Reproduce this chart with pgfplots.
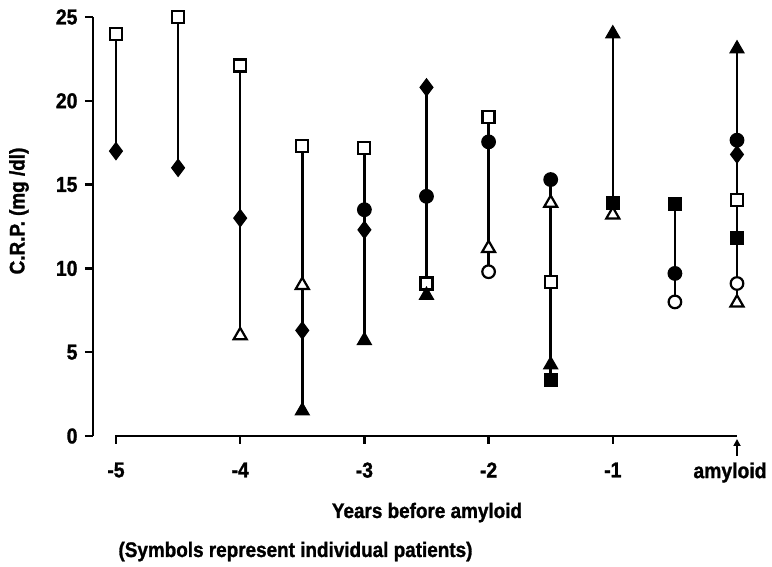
\documentclass[border=0pt]{standalone}
\usepackage{pgfplots}
\pgfplotsset{compat=1.18}
\usepackage{fontspec}
\setmainfont[FakeStretch=0.9, BoldFeatures={FakeBold=1.3}]{Liberation Sans}
\usetikzlibrary{arrows.meta}
\newcommand\lab{\fontsize{21}{25}\selectfont\bfseries}
\pgfplotsset{
  vline/.style={black, line width=2.6pt, no marks},
  fmark/.style={only marks, mark=#1, black, mark options={solid, fill=black, draw=black, line width=1.2pt}},
  omark/.style={only marks, mark=#1, black, mark options={solid, fill=white, draw=black, line width=2.2pt}},
}
\begin{document}
\begin{tikzpicture}[x=1pt,y=1pt]
\useasboundingbox (-93,-131) rectangle (679,436);
\begin{axis}[
  at={(0pt,0pt)}, anchor=south west,
  scale only axis, width=644pt, height=419pt,
  xmin=-5.185, xmax=0, ymin=0, ymax=25,
  clip=false,
  axis x line*=bottom, axis y line*=left,
  axis line style={draw=none},
  xtick={-5,-4,-3,-2,-1}, xticklabels={-5,-4,-3,-2,-1},
  extra x ticks={0}, extra x tick labels={amyloid},
  extra x tick style={major tick style={draw=none}, xticklabel style={xshift=-7pt}},
  ytick={0,5,10,15,20,25}, yticklabels={0,5,10,15,20,25},
  tick align=outside, major tick length=8pt,
  tick style={black, line width=2.5pt},
  ticklabel style={font=\fontsize{21.5}{25}\selectfont\bfseries},
  xticklabel style={yshift=-15pt},
  yticklabel style={xshift=-4pt},
]
% vertical range lines
\addplot[vline] coordinates {(-5,17) (-5,24)};
\addplot[vline] coordinates {(-4.5,16) (-4.5,25)};
\addplot[vline] coordinates {(-4,6) (-4,22.1)};
\addplot[vline] coordinates {(-3.5,1.5) (-3.5,17.3)};
\addplot[vline] coordinates {(-3,5.7) (-3,17.2)};
\addplot[vline] coordinates {(-2.5,8.4) (-2.5,20.8)};
\addplot[vline] coordinates {(-2,9.8) (-2,19.05)};
\addplot[vline] coordinates {(-1.5,3.35) (-1.5,15.3)};
\addplot[vline] coordinates {(-1,13.2) (-1,24.0)};
\addplot[vline] coordinates {(-0.5,8.0) (-0.5,13.85)};
\addplot[vline] coordinates {(0,7.95) (0,23.1)};
% filled diamonds
\addplot[fmark=diamond*, mark size=8.5pt] coordinates {(-5,17) (-4.5,16) (-4,13) (-3.5,6.3) (-3,12.3) (-2.5,20.8) (0,16.8)};
% open squares
\addplot[omark=square*, mark size=6pt] coordinates {(-5,24) (-4.5,25) (-4,22.1) (-3.5,17.3) (-3,17.2) (-2.5,9.1) (-2,19.05) (-1.5,9.2) (0,14.1)};
% filled triangles
\addplot[fmark=triangle*, mark size=8pt] coordinates {(-3.5,1.5) (-3,5.7) (-2.5,8.4) (-1.5,4.25) (-1,24.0) (0,23.1)};
% open triangles
\addplot[omark=triangle*, mark size=7.5pt] coordinates {(-4,6) (-3.5,9.0) (-2,11.2) (-1.5,13.9) (-1,13.2) (0,7.95)};
% filled circles
\addplot[fmark=*, mark size=6.8pt] coordinates {(-3,13.5) (-2.5,14.3) (-2,17.55) (-1.5,15.3) (-0.5,9.7) (0,17.65)};
% open circles
\addplot[omark=*, mark size=6.3pt] coordinates {(-2,9.8) (-0.5,8.0) (0,9.1)};
% filled squares
\addplot[fmark=square*, mark size=6.5pt] coordinates {(-1.5,3.35) (-1,13.9) (-0.5,13.85) (0,11.8)};
\end{axis}
\draw[line width=2.6pt] (0,0) -- (0,419);
\draw[line width=2.6pt] (22,0) -- (644,0);
\draw[line width=2pt, -{Triangle[width=7pt,length=7pt]}] (644,-20) -- (644,-3);
\node[font=\lab, rotate=90] at (-74,225) {C.R.P. (mg /dl)};
\node[font=\lab, anchor=base] at (334,-82) {Years before amyloid};
\node[font=\lab, anchor=base west] at (22,-121) {(Symbols represent individual patients)};
\end{tikzpicture}
\end{document}
